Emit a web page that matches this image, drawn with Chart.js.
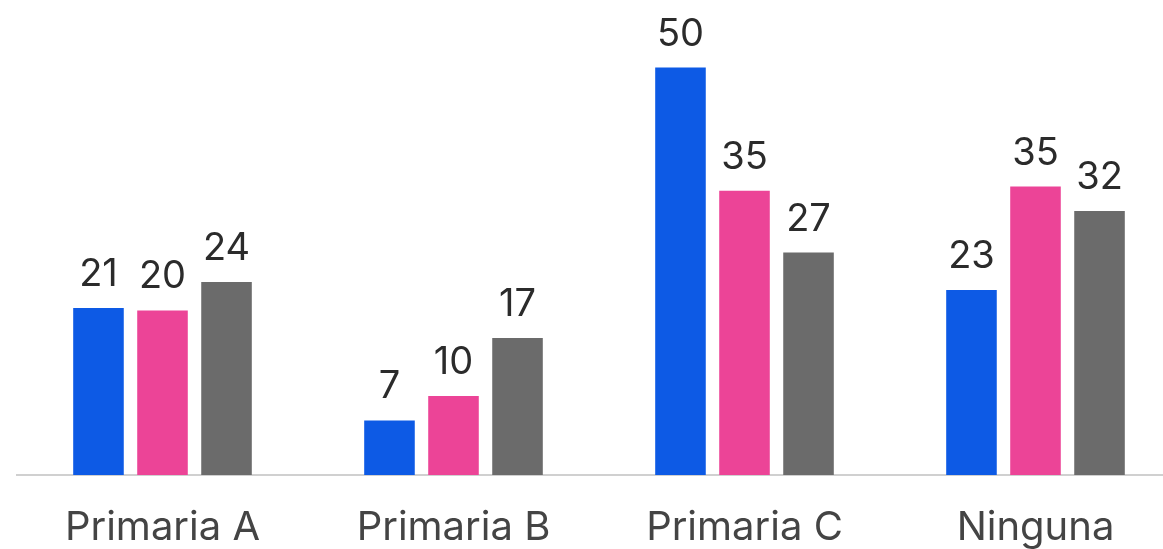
<!DOCTYPE html>
<html>
<head>
<meta charset="utf-8">
<script src="https://cdn.jsdelivr.net/npm/chart.js@4/dist/chart.umd.min.js"></script>
<style>
  html, body { margin: 0; padding: 0; background: #fff; overflow: hidden; }
  #wrap { position: relative; width: 1181px; height: 549px; }
</style>
</head>
<body>
<div id="wrap"><canvas id="chart"></canvas></div>
<script>
const categories = ['Primaria A', 'Primaria B', 'Primaria C', 'Ninguna'];
const serieAzul = [20.5, 6.7, 50.0, 22.7];
const serieRosa = [20.2, 9.7, 34.9, 35.4];
const serieGris = [23.7, 16.8, 27.3, 32.4];

const colors = ['#0d5ae5', '#ec4497', '#6b6b6b'];

// draw the rounded value above each bar
const valueLabels = {
    id: 'valueLabels',
    afterDatasetsDraw(chart) {
        const ctx = chart.ctx;
        ctx.save();
        ctx.font = '38px Inter';
        ctx.fillStyle = '#2b2b2b';
        ctx.textAlign = 'center';
        ctx.textBaseline = 'alphabetic';
        chart.data.datasets.forEach((ds, i) => {
            chart.getDatasetMeta(i).data.forEach((bar, j) => {
                ctx.fillText(Math.round(ds.data[j]), bar.x, bar.y - 22);
            });
        });
        ctx.restore();
    }
};

new Chart(document.getElementById('chart'), {
    type: 'bar',
    data: {
        labels: categories,
        datasets: [
            { data: serieAzul, backgroundColor: colors[0] },
            { data: serieRosa, backgroundColor: colors[1] },
            { data: serieGris, backgroundColor: colors[2] }
        ]
    },
    options: {
        responsive: true,
        maintainAspectRatio: false,
        animation: false,
        categoryPercentage: 0.66,
        barPercentage: 0.79,
        layout: { padding: { left: 17, right: 0, top: 0, bottom: 0 } },
        plugins: { legend: { display: false }, tooltip: { enabled: false } },
        scales: {
            x: {
                grid: { display: false, drawTicks: false },
                border: { display: true, color: '#d0d0d0', width: 2 },
                ticks: {
                    color: '#444',
                    font: { family: 'Inter', size: 40 },
                    padding: 29
                },
                afterFit(scale) { scale.height = 74; }
            },
            y: { display: false, min: 0, max: 58.3 }
        }
    },
    plugins: [valueLabels]
});
</script>
</body>
</html>
